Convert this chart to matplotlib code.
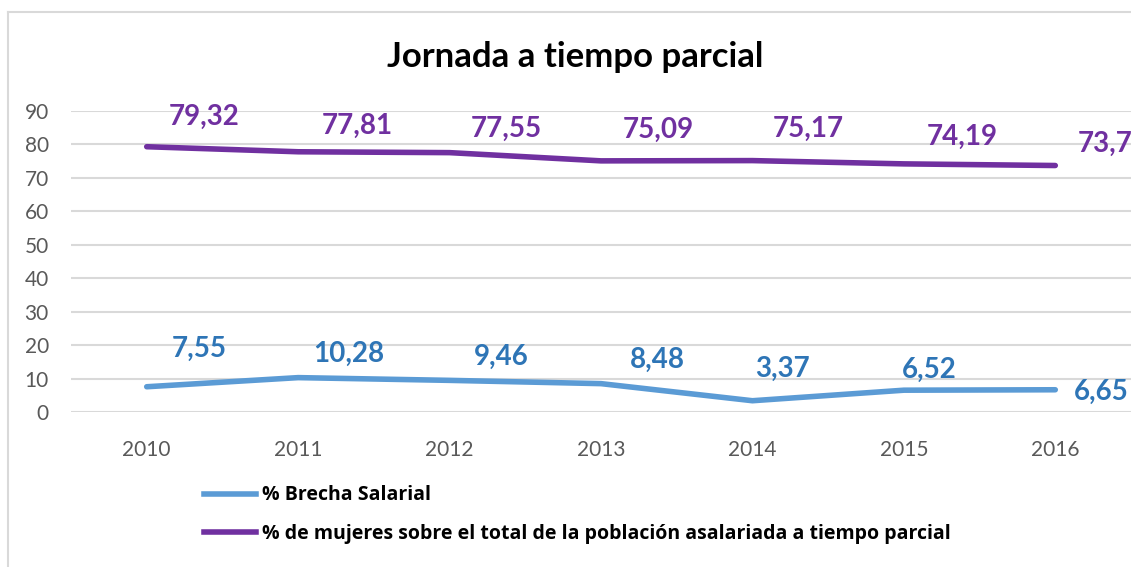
import matplotlib.pyplot as plt
from matplotlib.lines import Line2D

# data
years = ['2010', '2011', '2012', '2013', '2014', '2015', '2016']
brecha = [7.55, 10.28, 9.46, 8.48, 3.37, 6.52, 6.65]
mujeres = [79.32, 77.81, 77.55, 75.09, 75.17, 74.19, 73.7]
brecha_lbl = ['7,55', '10,28', '9,46', '8,48', '3,37', '6,52', '6,65']
mujeres_lbl = ['79,32', '77,81', '77,55', '75,09', '75,17', '74,19', '73,7']
yticks = [0, 10, 20, 30, 40, 50, 60, 70, 80, 90]

# label offsets in pixels (dx, dy) relative to each point
brecha_off = [(53, 38), (51, 24), (52, 24), (56, 24), (30, 32), (25, 20), (46, -2)]
mujeres_off = [(57, 30), (59, 26), (57, 24), (57, 31), (56, 32), (58, 27), (50, 22)]

purple = '#7030A0'
blue = '#5B9BD5'
blue_txt = '#2E75B6'

plt.rcParams['font.family'] = ['Lato', 'DejaVu Sans']

fig = plt.figure(figsize=(11.31, 5.67), dpi=100)
ax = fig.add_axes([71/1131, 1-412/567, (1131-71)/1131, 301/567])

x = list(range(len(years)))
ax.plot(x, brecha, color=blue, lw=4, solid_capstyle='round')
ax.plot(x, mujeres, color=purple, lw=4, solid_capstyle='round')

for i in x:
    ax.annotate(brecha_lbl[i], (i, brecha[i]), xytext=brecha_off[i],
                textcoords='offset pixels', ha='center', va='center',
                color=blue_txt, fontsize=20, fontweight='bold', annotation_clip=False)
    ax.annotate(mujeres_lbl[i], (i, mujeres[i]), xytext=mujeres_off[i],
                textcoords='offset pixels', ha='center', va='center',
                color=purple, fontsize=20, fontweight='bold', annotation_clip=False)

ax.set_xlim(-0.5, len(years) - 0.5)
ax.set_ylim(0, 90)
ax.set_yticks(yticks)
ax.set_xticks(x)
ax.set_xticklabels(years)
ax.grid(axis='y', color='#D9D9D9', lw=1.5)
ax.set_axisbelow(True)
for s in ax.spines.values():
    s.set_visible(False)
ax.tick_params(length=0, labelsize=15, colors='#595959')
ax.tick_params(axis='x', pad=20)
ax.tick_params(axis='y', pad=16)

fig.text(575/1131, 1-57/567, 'Jornada a tiempo parcial', ha='center', va='center',
         fontsize=25, fontweight='bold', color='black')

# legend at the bottom left
handles = [Line2D([0], [0], color=blue, lw=4), Line2D([0], [0], color=purple, lw=4)]
leg = fig.legend(handles, ['% Brecha Salarial',
                           '% de mujeres sobre el total de la población asalariada a tiempo parcial'],
                 loc='upper left', bbox_to_anchor=(186/1131, 1-468/567), frameon=False,
                 prop={'family': 'Open Sans', 'size': 14, 'weight': 'bold'},
                 handlelength=2.7, handletextpad=0.3, labelspacing=0.95)

# outer frame (only top and left visible in the reference)
fig.add_artist(Line2D([8/1131, 1], [1-12/567, 1-12/567], color='#D9D9D9', lw=1.5))
fig.add_artist(Line2D([8/1131, 8/1131], [1-12/567, 0], color='#D9D9D9', lw=1.5))

fig.savefig('out.png', dpi=100)
